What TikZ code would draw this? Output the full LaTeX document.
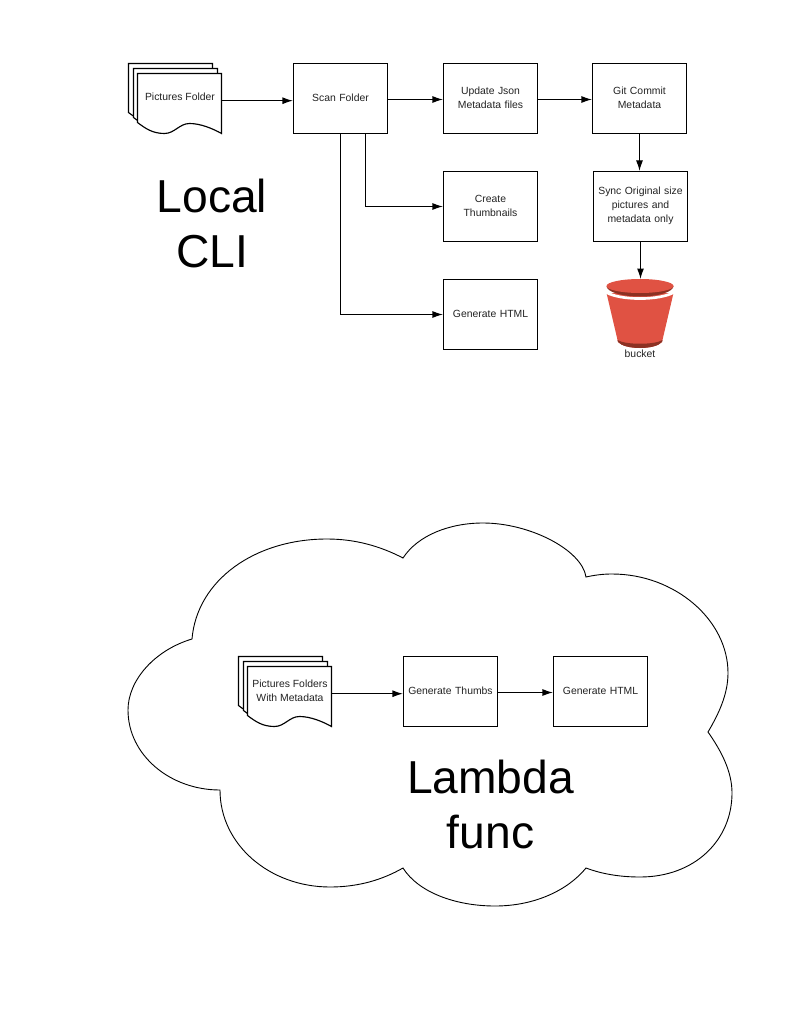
\documentclass[tikz,border=0pt]{standalone}
\usepackage{fontspec}
\setmainfont{Liberation Sans}
\usetikzlibrary{arrows.meta}
\definecolor{txt}{HTML}{222222}
\definecolor{bred}{HTML}{E05243}
\definecolor{bdark}{HTML}{8C3123}
\tikzset{
  procbox/.style={draw=black,line width=1.15pt,minimum width=94pt,minimum height=70pt,inner sep=1pt,text width=90pt,align=center,font=\fontsize{10.4}{14}\selectfont,text=txt,execute at end node={\par\vspace{2pt}}},
  sheet/.style={draw=black,line width=1.15pt,fill=white,line join=miter},
  flow/.style={draw=black,line width=1.15pt,-{Latex[length=10.5pt,width=7pt]}},
  bigtext/.style={font=\fontsize{46.2}{55}\selectfont,align=center,text=black,inner sep=0pt},
  smalltext/.style={font=\fontsize{10.4}{14}\selectfont,align=center,text=txt,inner sep=0pt},
  doclabel/.style={smalltext,minimum width=84pt,minimum height=54pt},
}
\newcommand{\docstack}[2]{%
  \foreach \dx/\dy in {0/0,5/5,9/10}{
    \begin{scope}[shift={({#1+\dx},{#2+\dy})}]
    \path[sheet] (0,0) -- (84,0) -- (84,60) .. controls (75,55) and (63,50) .. (52,50)
      .. controls (42,50) and (37,60) .. (27,60) .. controls (15,60) and (8,55) .. (0,49) -- cycle;
    \end{scope}
  }
}
\begin{document}
\begin{tikzpicture}[x=1pt,y=-1pt]
\useasboundingbox (0,0) rectangle (791,1024);
% cloud
\draw[black,line width=0.9pt,line join=miter] (192,639)
  .. controls (197,580) and (255,539) .. (327,539)
  .. controls (355,539) and (380,546) .. (403,558)
  .. controls (418,535) and (450,523) .. (483,523)
  .. controls (530,523) and (582,550) .. (586,577)
  .. controls (595,575) and (603,574) .. (612,574)
  .. controls (675,574) and (728,620) .. (728,673)
  .. controls (728,695) and (718,715) .. (708,732)
  .. controls (722,752) and (732,772) .. (732,793)
  .. controls (732,840) and (695,877) .. (640,877)
  .. controls (620,877) and (602,874) .. (586,868)
  .. controls (568,890) and (535,906) .. (495,906)
  .. controls (455,906) and (418,892) .. (403,868)
  .. controls (382,880) and (358,887) .. (330,887)
  .. controls (270,887) and (220,845) .. (220,790)
  .. controls (170,790) and (128,755) .. (128,710)
  .. controls (128,680) and (155,650) .. (192,639) -- cycle;
% top row
\docstack{128.5}{63.5}
\node[doclabel,anchor=north west] (pics) at (137.5,73.5) {};
\node[smalltext] (picstext) at (180,97) {Pictures Folder};
\node[procbox] (scan) at (340.5,98.5) {Scan Folder};
\node[procbox] (update) at (490.5,98.5) {Update Json\\Metadata files};
\node[procbox] (git) at (639.5,98.5) {Git Commit\\Metadata};
\node[procbox] (create) at (490.5,206.5) {Create\\Thumbnails};
\node[procbox] (sync) at (640.5,206.5) {Sync Original size\\pictures and\\metadata only};
\node[procbox] (html) at (490.5,314.5) {Generate HTML};
% bucket
\fill[bred] (606.5,293) -- (673.5,293) -- (662,342) .. controls (655,350) and (625,350) .. (618,342) -- cycle;
\fill[bdark] (617.5,340) .. controls (625,345) and (655,345) .. (662.5,340) -- (662,342) .. controls (655,350) and (625,350) .. (618,342) -- cycle;
\fill[white] (605.5,290.5) .. controls (620,299.5) and (660,299.5) .. (674.5,290.5) -- (674.5,293.5) .. controls (660,302) and (620,302) .. (605.5,293.5) -- cycle;
\fill[bdark] (606.5,286) arc[start angle=180,end angle=0,x radius=33.5,y radius=10.5] -- cycle;
\fill[bred] (640,286) ellipse[x radius=33.5,y radius=7];
\coordinate (bucket) at (640.5,279);
\node[smalltext] (bucketlabel) at (640,354) {bucket};
% big labels
\node[bigtext] (local) at (212,223) {Local\\CLI};
\node[bigtext] (lambda) at (490.5,804) {Lambda\\func};
% bottom row
\docstack{238.5}{656.5}
\node[doclabel,anchor=north west] (picsb) at (247.5,666.5) {};
\node[smalltext] (picsbtext) at (290,690.5) {Pictures Folders\\With Metadata};
\node[procbox] (thumbs) at (450.5,691.5) {Generate Thumbs};
\node[procbox] (htmlb) at (600.5,691.5) {Generate HTML};
% connectors
\draw[flow] (pics.east) -- (pics.east -| scan.west);
\draw[flow] ([yshift=-1pt]scan.east) -- ([yshift=-1pt]update.west);
\draw[flow] ([yshift=-1pt]update.east) -- ([yshift=-1pt]git.west);
\draw[flow] ([xshift=25pt]scan.south) |- (create.west);
\draw[flow] (scan.south) |- (html.west);
\draw[flow] (git.south) -- (git.south |- sync.north);
\draw[flow] (sync.south) -- (bucket);
\draw[flow] (picsb.east) -- (picsb.east -| thumbs.west);
\draw[flow] ([yshift=-1pt]thumbs.east) -- ([yshift=-1pt]htmlb.west);
\end{tikzpicture}
\end{document}
